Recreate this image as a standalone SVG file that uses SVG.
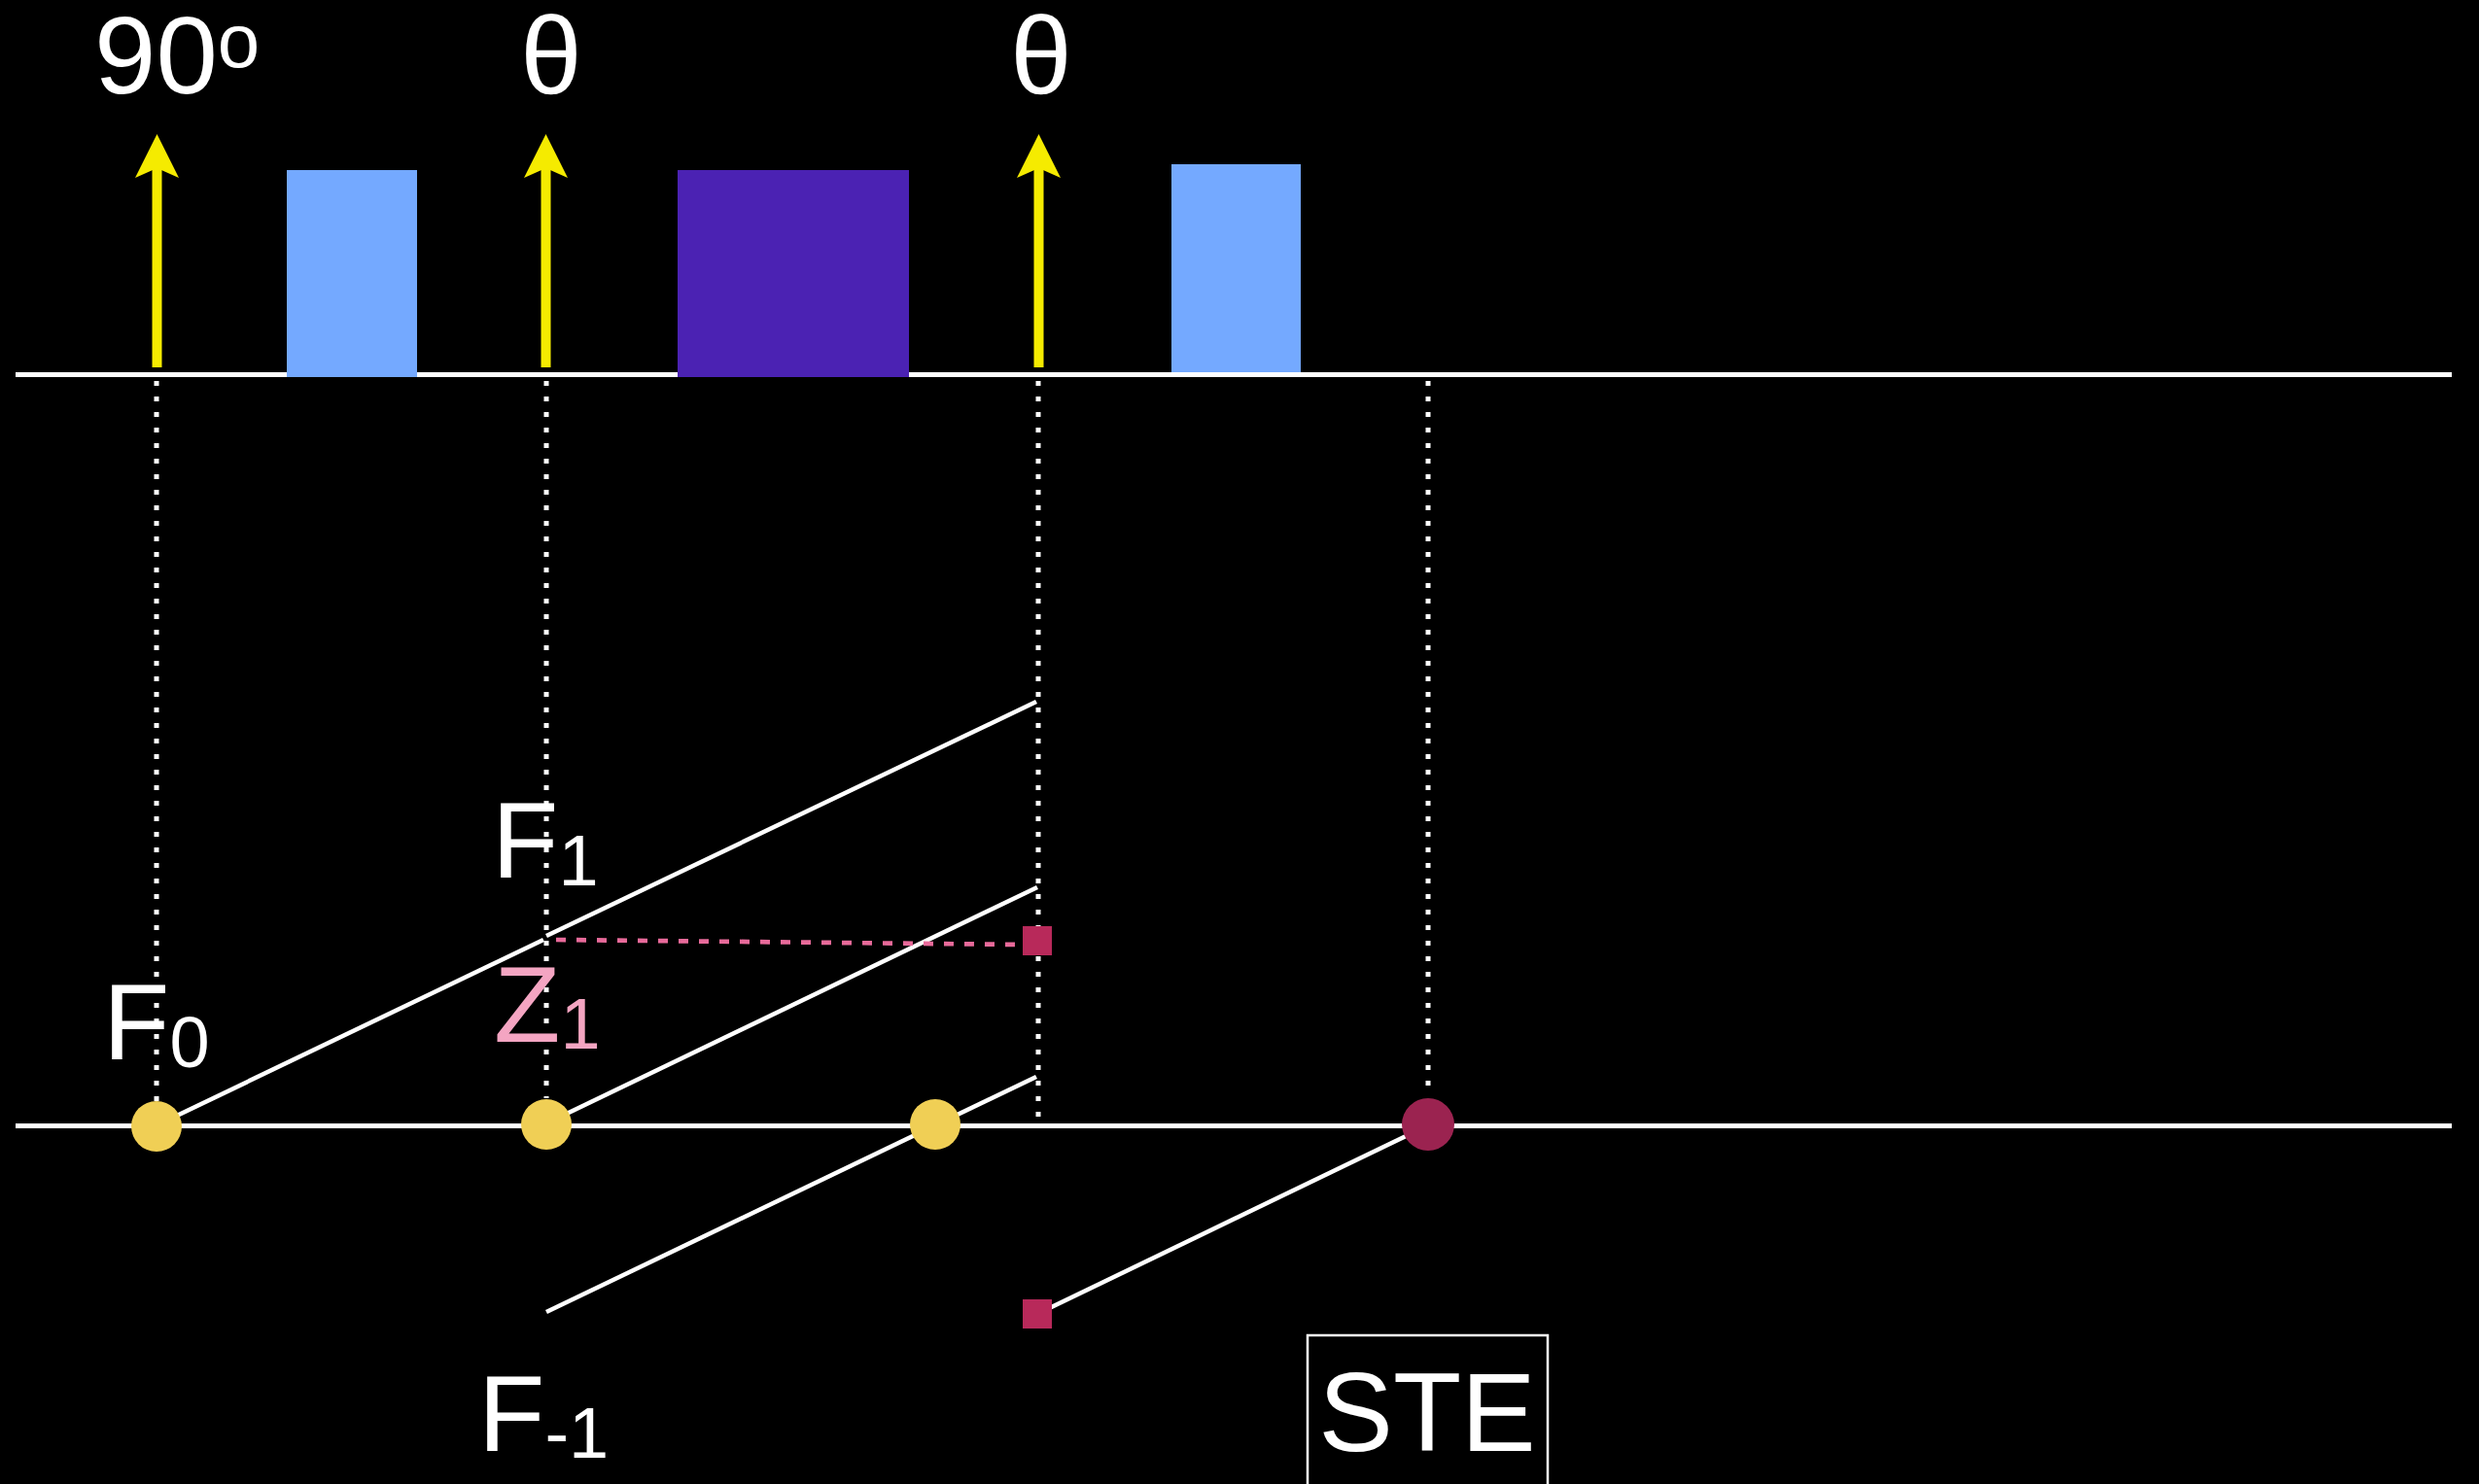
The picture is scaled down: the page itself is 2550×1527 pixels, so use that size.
<svg xmlns="http://www.w3.org/2000/svg" width="2550" height="1527" viewBox="0 0 2550 1527">
<style>
.t{font-family:"Liberation Sans",Arial,sans-serif;fill:#fff}
.big{font-size:112px}
.sub{font-size:74px}
.axis{stroke:#fff;stroke-width:5;fill:none}
.diag{stroke:#fff;stroke-width:4.5;fill:none}
.dot{stroke:#fff;stroke-width:5;stroke-dasharray:5 11;fill:none}
.pd{stroke:#E86A9A;stroke-width:4.7;stroke-dasharray:10 11;fill:none}
.yc{fill:#F0CF55}
.sq{fill:#B8295A}
</style>
<defs>
<g id="rf">
<line x1="0" y1="378" x2="0" y2="170" stroke="#F5EB00" stroke-width="10"/>
<polygon points="0,138 22.5,183 0,173 -22.5,183" fill="#F5EB00"/>
</g>
</defs>
<rect width="2550" height="1527" fill="#000"/>
<g id="connectors">
<line class="axis" x1="16" y1="385.5" x2="2522" y2="385.5"/>
<line class="axis" x1="16" y1="1158.5" x2="2522" y2="1158.5"/>
<line class="dot" x1="161" y1="392" x2="161" y2="1133"/>
<line class="dot" x1="562" y1="392" x2="562" y2="1130"/>
<line class="dot" x1="1068" y1="392" x2="1068" y2="1150"/>
<line class="dot" x1="1469" y1="392" x2="1469" y2="1128"/>
<line class="diag" x1="161" y1="1158" x2="559" y2="967"/>
<line class="diag" x1="562" y1="963" x2="1066" y2="722"/>
<line class="diag" x1="562" y1="1156" x2="1067" y2="913"/>
<line class="diag" x1="562" y1="1350" x2="1066" y2="1108"/>
<line class="diag" x1="1067" y1="1352" x2="1469" y2="1158"/>
<line class="pd" x1="572" y1="967" x2="1053" y2="972"/>
</g>
<g id="pulse-90"><use href="#rf" x="161.5"/></g>
<g id="pulse-theta1"><use href="#rf" x="561.5"/></g>
<g id="pulse-theta2"><use href="#rf" x="1068.5"/></g>
<g id="grad1"><rect x="295" y="175" width="134" height="213" fill="#74A9FF"/></g>
<g id="grad2"><rect x="697" y="175" width="238" height="213" fill="#4B22B3"/></g>
<g id="grad3"><rect x="1205" y="169" width="133" height="214" fill="#74A9FF"/></g>
<g id="label-90"><text class="t" x="97" y="96" font-size="114">90<tspan font-size="78" dy="-27">o</tspan></text></g>
<g id="label-theta1"><text class="t" x="567" y="96" font-size="114" text-anchor="middle">θ</text></g>
<g id="label-theta2"><text class="t" x="1071" y="96" font-size="114" text-anchor="middle">θ</text></g>
<g id="node-F0-dot"><circle class="yc" cx="161" cy="1159" r="26"/></g>
<g id="node-F1-dot"><circle class="yc" cx="562" cy="1157" r="26"/></g>
<g id="node-E-dot"><circle class="yc" cx="962" cy="1157" r="26"/></g>
<g id="node-STE-dot"><circle cx="1469" cy="1157" r="27" fill="#9B2350"/></g>
<g id="node-Z-sq"><rect class="sq" x="1052" y="953" width="30" height="30"/></g>
<g id="node-F-1-sq"><rect class="sq" x="1052" y="1337" width="30" height="30"/></g>
<g id="label-F0"><text class="t big" x="106" y="1090">F<tspan class="sub" dy="8">0</tspan></text></g>
<g id="label-F1"><text class="t big" x="506" y="903">F<tspan class="sub" dy="8">1</tspan></text></g>
<g id="label-Z1"><text class="t big" x="508" y="1072" style="fill:#F4A5C2">Z<tspan class="sub" dy="7">1</tspan></text></g>
<g id="label-F-1"><text class="t big" x="492" y="1493">F<tspan class="sub" dy="7">-1</tspan></text></g>
<g id="label-STE">
<rect x="1345" y="1374" width="247" height="200" fill="none" stroke="#fff" stroke-width="2.5"/>
<text class="t" x="1468" y="1493" font-size="115" text-anchor="middle">STE</text>
</g>
</svg>
